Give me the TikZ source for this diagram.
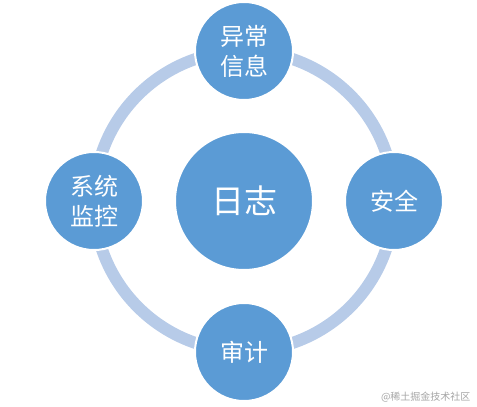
\documentclass[tikz,border=0pt]{standalone}
\usepackage{fontspec}
\newfontfamily\cjk{Noto Sans CJK SC}
\usetikzlibrary{positioning}
\definecolor{NodeBlue}{RGB}{91,155,213}
\definecolor{RingBlue}{RGB}{183,203,232}
\definecolor{MarkGray}{RGB}{165,165,165}
\tikzset{
  topic/.style={circle,fill=NodeBlue,draw=white,line width=2pt,minimum size=98pt,
    inner sep=0pt,align=center,text=white,font=\cjk\fontsize{24}{30}\selectfont},
  hub/.style={topic,minimum size=138pt,font=\cjk\fontsize{33}{38}\selectfont}
}

\begin{document}
\begin{tikzpicture}[x=1pt,y=-1pt]
  \useasboundingbox (0,0) rectangle (477,407);
  \coordinate (o) at (244,201);
  \draw[RingBlue,line width=12pt] (o) circle (150pt);
  \node[hub] (log) at (o) {日志};
  \node[topic] (exc) at (244,51) {异常\\信息};
  \node[topic] (safe) at (394,201) {安全};
  \node[topic] (audit) at (244,352) {审计};
  \node[topic] (mon) at (94,201) {系统\\监控};
  \node[MarkGray,font=\cjk\fontsize{10}{12}\selectfont,anchor=east] (mark) at (474,397) {@稀土掘金技术社区};
\end{tikzpicture}
\end{document}
